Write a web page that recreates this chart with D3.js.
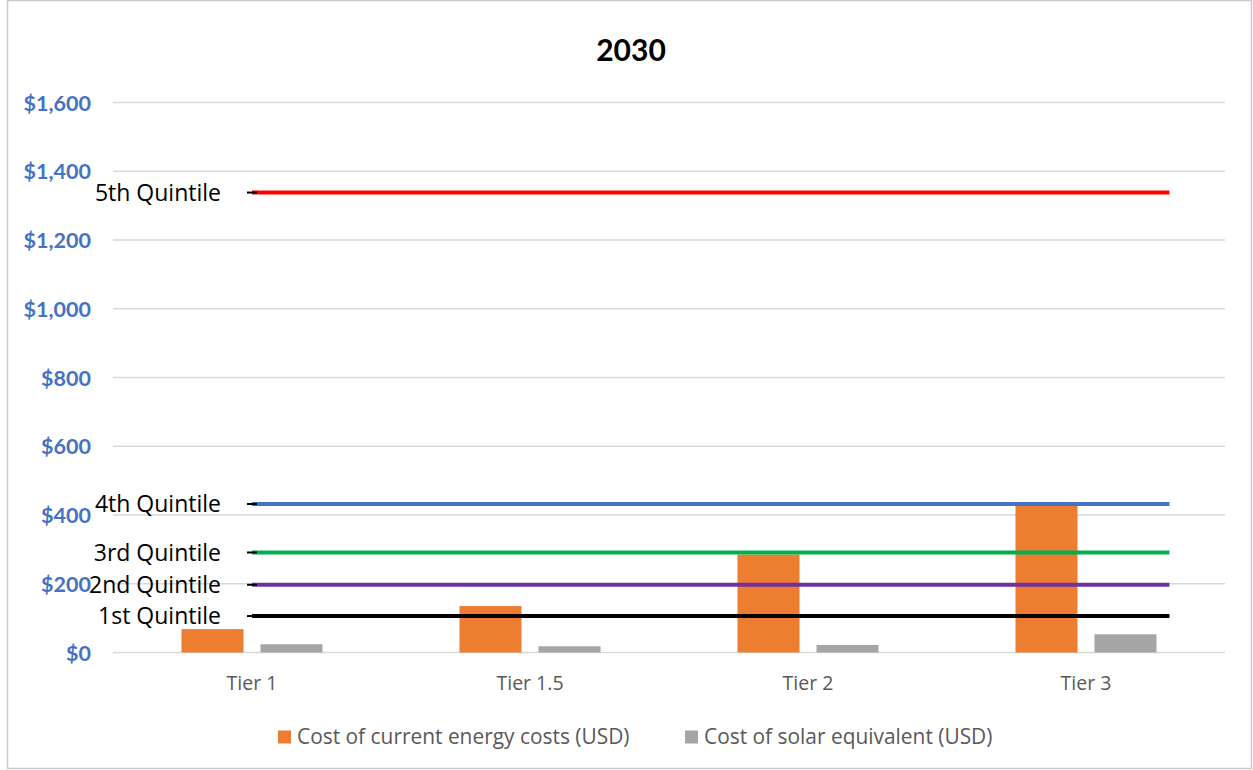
<!DOCTYPE html>
<html>
<head>
<meta charset="utf-8">
<script src="https://cdn.jsdelivr.net/npm/d3@7"></script>
<style>
  html, body { margin: 0; padding: 0; background: #fff; }
  svg { display: block; }
</style>
</head>
<body>
<svg id="chart" width="1253" height="770"></svg>
<script>
// Categories and series
const tiers = ["Tier 1", "Tier 1.5", "Tier 2", "Tier 3"];
const currentCosts = [68, 135, 285, 429];
const solarCosts = [24, 18, 22, 53];
const seriesNames = ["Cost of current energy costs (USD)", "Cost of solar equivalent (USD)"];
const seriesColors = ["#ED7D31", "#A5A5A5"];

// Income quintile reference levels
const quintileNames = ["5th Quintile", "4th Quintile", "3rd Quintile", "2nd Quintile", "1st Quintile"];
const quintileValues = [1338, 432, 291, 197, 106];
const quintileColors = ["#FF0000", "#4472C4", "#00B050", "#7030A0", "#000000"];

// Y axis ticks
const yTicks = [0, 200, 400, 600, 800, 1000, 1200, 1400, 1600];

const W = 1253, H = 770;
const margin = { left: 113, right: 28, top: 102.5, bottom: 117.5 };
const svg = d3.select("#chart");
const bodyFont = "'Open Sans', sans-serif";
const boldFont = "Lato, 'Open Sans', sans-serif";

// outer frame
svg.append("rect")
  .attr("x", 7.5).attr("y", 0.5)
  .attr("width", W - 9).attr("height", H - 2)
  .attr("fill", "#fff").attr("stroke", "#C9CBD3").attr("stroke-width", 1.5);

const x = d3.scaleBand().domain(tiers).range([margin.left, W - margin.right]);
const y = d3.scaleLinear().domain([0, 1600]).range([H - margin.bottom, margin.top]);
const inner = d3.scaleBand().domain([0, 1]).range([0, x.bandwidth()])
  .paddingInner(0.215).paddingOuter(0.867);

// title
svg.append("text")
  .attr("x", 631).attr("y", 61)
  .attr("text-anchor", "middle")
  .attr("font-family", boldFont)
  .attr("font-weight", "bold").attr("font-size", 30)
  .attr("fill", "#000")
  .text("2030");

// gridlines
svg.append("g").selectAll("line").data(yTicks).join("line")
  .attr("x1", margin.left).attr("x2", W - margin.right)
  .attr("y1", d => y(d)).attr("y2", d => y(d))
  .attr("stroke", "#D9D9D9").attr("stroke-width", 1.5);

// y axis labels
const yAxis = d3.axisLeft(y).tickValues(yTicks)
  .tickFormat(d => "$" + d3.format(",")(d)).tickSize(0).tickPadding(22);
const gy = svg.append("g").attr("transform", `translate(${margin.left},0)`).call(yAxis);
gy.select(".domain").remove();
gy.selectAll("text")
  .attr("font-family", boldFont)
  .attr("font-weight", "bold").attr("font-size", 21.5)
  .attr("fill", "#4472C4").attr("dy", "0.35em");

// x axis labels
const xAxis = d3.axisBottom(x).tickSize(0).tickPadding(24);
const gx = svg.append("g").attr("transform", `translate(0,${y(0)})`).call(xAxis);
gx.select(".domain").remove();
gx.selectAll("text")
  .attr("font-family", bodyFont)
  .attr("font-size", 19.5).attr("fill", "#595959");

// bars
const seriesData = [currentCosts, solarCosts];
seriesData.forEach((vals, si) => {
  svg.append("g").selectAll("rect").data(vals).join("rect")
    .attr("x", (d, i) => x(tiers[i]) + inner(si))
    .attr("width", inner.bandwidth())
    .attr("y", d => y(d))
    .attr("height", d => y(0) - y(d))
    .attr("fill", seriesColors[si]);
});

// quintile lines on their own horizontal scale
const xq = d3.scaleLinear().domain([0, 4]).range([margin.left, W - margin.right]);
const qStart = 0.5, qEnd = 3.8;
const gq = svg.append("g");
quintileValues.forEach((v, i) => {
  gq.append("line")
    .attr("x1", xq(qStart)).attr("x2", xq(qEnd))
    .attr("y1", y(v)).attr("y2", y(v))
    .attr("stroke", quintileColors[i]).attr("stroke-width", 4);
  // dash marker at the start of each line
  gq.append("line")
    .attr("x1", xq(qStart) - 5).attr("x2", xq(qStart) + 5)
    .attr("y1", y(v)).attr("y2", y(v))
    .attr("stroke", "#000").attr("stroke-width", 2);
  gq.append("text")
    .attr("x", xq(qStart) - 31).attr("y", y(v))
    .attr("dy", "0.35em")
    .attr("text-anchor", "end")
    .attr("font-family", bodyFont)
    .attr("font-size", 23).attr("fill", "#000")
    .text(quintileNames[i]);
});

// legend
const legendItems = [{ x: 278 }, { x: 685 }];
legendItems.forEach((it, i) => {
  const g = svg.append("g").attr("transform", `translate(${it.x},737)`);
  g.append("rect").attr("x", 0).attr("y", -6.5).attr("width", 13).attr("height", 13)
    .attr("fill", seriesColors[i]);
  g.append("text").attr("x", 19).attr("y", 0).attr("dy", "0.35em")
    .attr("font-family", bodyFont)
    .attr("font-size", 20.9).attr("fill", "#595959")
    .text(seriesNames[i]);
});
</script>
</body>
</html>
